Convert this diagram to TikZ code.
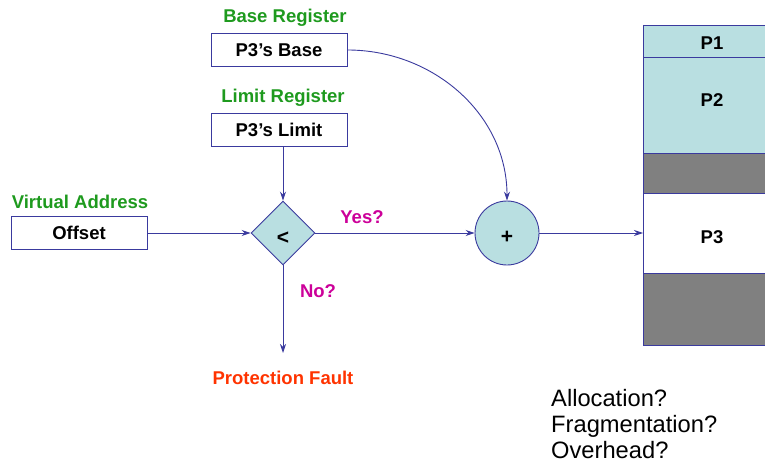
\documentclass[tikz,border=0pt]{standalone}
\usepackage{fontspec}
\setmainfont{Liberation Sans}
\usetikzlibrary{shapes.geometric,arrows.meta}
\definecolor{lineblue}{HTML}{3A3A9E}
\definecolor{cyanfill}{HTML}{B9DFE1}
\definecolor{labgreen}{HTML}{1E9A1E}
\definecolor{labmag}{HTML}{CC0099}
\definecolor{laborange}{HTML}{FF3300}
\definecolor{memgray}{HTML}{808080}
\tikzset{
  bigbold/.style={font=\fontsize{18.5}{22}\selectfont\bfseries},
  reg/.style={draw=lineblue, line width=0.9pt, minimum width=136pt, minimum height=33pt, inner sep=0pt, bigbold},
  title/.style={bigbold, text=labgreen, inner sep=0pt},
  cond/.style={bigbold, text=labmag, inner sep=0pt},
  conn/.style={draw=lineblue, line width=0.9pt, -{Stealth[length=9pt,width=6pt,inset=3pt]}},
  memtxt/.style={bigbold, inner sep=0pt},
  memfill/.style={minimum width=122pt, inner sep=0pt, outer sep=0pt},
  opnode/.style={draw=lineblue, line width=0.9pt, fill=cyanfill, inner sep=0pt, bigbold}
}
\begin{document}
\begin{tikzpicture}[x=1pt,y=-1pt]
\useasboundingbox (0,0) rectangle (765,468);
% memory
\node[memfill, fill=cyanfill, minimum height=32pt] (m1) at (704,41) {};
\node[memfill, fill=cyanfill, minimum height=96pt] (m2) at (704,105) {};
\node[memfill, fill=memgray, minimum height=40pt] (m3) at (704,173) {};
\node[memfill, fill=white, minimum height=80pt] (m4) at (704,233) {};
\node[memfill, fill=memgray, minimum height=72pt] (m5) at (704,309) {};
\node[memtxt] (t1) at (712,43) {P1};
\node[memtxt] (t2) at (712,100) {P2};
\node[memtxt] (t3) at (712,237) {P3};
\draw[lineblue, line width=0.9pt] (m1.north west) -- (m5.south west);
\foreach \n in {m1,m2,m3,m4,m5}{
  \draw[lineblue, line width=0.9pt] (\n.north west) -- (\n.north east);
}
\draw[lineblue, line width=0.9pt] (m5.south west) -- (m5.south east);
% registers
\node[title] (bt) at (285,18) {Base Register};
\node[reg] (base) at (279,50) {P3’s Base};
\node[title] (lt) at (283,98) {Limit Register};
\node[reg] (limit) at (279,130) {P3’s Limit};
\node[title] (vt) at (80,202) {Virtual Address};
\node[reg] (off) at (79,233) {Offset};
% operators
\node[opnode, diamond, aspect=1, minimum width=64pt, minimum height=64pt] (cmp) at (283,233) {};
\node[font=\fontsize{21}{24}\selectfont\bfseries] (lt2) at (283,238) {<};
\node[opnode, circle, minimum size=64pt] (plus) at (507,233) {};
\node[font=\fontsize{21}{24}\selectfont\bfseries] (pl) at (507,237) {+};
\coordinate (fault) at (283,353);
\node[bigbold, text=laborange, inner sep=0pt] (pf) at (283,378) {Protection Fault};
\node[cond] (yes) at (362,217) {Yes?};
\node[cond] (no) at (318,291) {No?};
% connectors
\draw[conn] (off.east) -- (cmp.west);
\draw[conn] (limit.south -| cmp.north) -- (cmp.north);
\draw[conn] (cmp.east) -- (plus.west);
\draw[conn] (cmp.south) -- (fault);
\draw[conn] (base.east) to[out=0,in=90] (plus.north);
\draw[conn] (plus.east) -- (m4.west);
% questions
\node[anchor=north west, align=left, inner sep=0pt, font=\fontsize{23.7}{26}\selectfont] (q) at (551,389) {Allocation?\\Fragmentation?\\Overhead?};
\end{tikzpicture}
\end{document}
